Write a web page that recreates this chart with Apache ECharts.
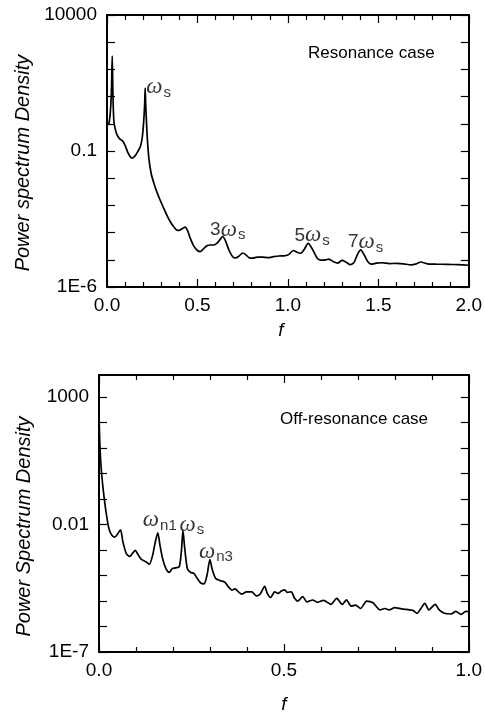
<!DOCTYPE html>
<html><head><meta charset="utf-8">
<script src="https://cdn.jsdelivr.net/npm/echarts@6/dist/echarts.min.js"></script>
<style>html,body{margin:0;padding:0;background:#fff}#c{width:485px;height:715px}</style>
</head><body><div id="c"></div>
<script>
// ---------- Data: resonance case ----------
const topF = [0.000,0.010,0.018,0.024,0.029,0.033,0.038,0.044,0.055,0.070,0.085,0.100,0.115,0.130,0.140,0.155,0.170,0.185,0.195,0.203,0.208,0.211,0.214,0.218,0.223,0.232,0.245,0.260,0.275,0.290,0.310,0.330,0.350,0.370,0.390,0.405,0.420,0.432,0.445,0.460,0.480,0.500,0.515,0.530,0.550,0.570,0.590,0.610,0.625,0.640,0.655,0.675,0.695,0.710,0.730,0.750,0.765,0.785,0.805,0.830,0.860,0.890,0.920,0.950,0.985,1.005,1.030,1.050,1.070,1.090,1.112,1.135,1.160,1.180,1.210,1.225,1.255,1.275,1.300,1.320,1.345,1.365,1.385,1.402,1.420,1.440,1.460,1.490,1.520,1.560,1.600,1.640,1.680,1.710,1.735,1.770,1.820,1.880,1.940,2.000];
const topPSD = [0.91,1.0,2.5,12.6,309,10,1.26,0.71,0.40,0.28,0.24,0.16,0.089,0.060,0.055,0.066,0.095,0.15,0.32,1.26,5.0,20.4,5.0,1.26,0.28,0.050,0.014,0.0063,0.0032,0.0018,8.9e-4,4.5e-4,2.5e-4,1.6e-4,1.2e-4,1.26e-4,1.45e-4,1.6e-4,1.2e-4,6.3e-5,3.2e-5,2.2e-5,2.0e-5,2.4e-5,3.2e-5,3.5e-5,3.5e-5,4.2e-5,5.6e-5,7.2e-5,5.0e-5,2.2e-5,1.3e-5,1.17e-5,1.38e-5,1.78e-5,1.58e-5,1.2e-5,1.15e-5,1.26e-5,1.26e-5,1.2e-5,1.3e-5,1.38e-5,1.41e-5,1.58e-5,2.2e-5,1.9e-5,1.74e-5,2.4e-5,4.0e-5,2.5e-5,1.2e-5,9.8e-6,1.0e-5,1.05e-5,8.3e-6,7.6e-6,9.5e-6,8.3e-6,6.6e-6,7.9e-6,1.58e-5,2.3e-5,1.58e-5,8.9e-6,6.9e-6,7.6e-6,7.8e-6,7.2e-6,7.4e-6,7.1e-6,6.5e-6,7.1e-6,8.3e-6,7.1e-6,6.9e-6,6.8e-6,6.6e-6,6.3e-6];

// ---------- Data: off-resonance case ----------
const botF = [0.000,0.002,0.005,0.009,0.014,0.020,0.026,0.032,0.042,0.050,0.058,0.065,0.074,0.083,0.092,0.098,0.105,0.114,0.128,0.136,0.145,0.152,0.159,0.165,0.172,0.181,0.190,0.198,0.207,0.217,0.223,0.227,0.232,0.239,0.248,0.257,0.266,0.275,0.284,0.292,0.300,0.306,0.315,0.328,0.340,0.350,0.359,0.368,0.377,0.386,0.399,0.413,0.426,0.436,0.448,0.455,0.464,0.475,0.484,0.493,0.502,0.509,0.520,0.528,0.537,0.551,0.562,0.578,0.591,0.607,0.627,0.643,0.658,0.669,0.682,0.694,0.707,0.724,0.741,0.760,0.773,0.785,0.800,0.818,0.840,0.850,0.860,0.870,0.881,0.892,0.909,0.920,0.934,0.952,0.965,0.979,0.992,1.000];
const botPSD = [200,20,2.5,0.5,0.112,0.025,0.0079,0.0044,0.0032,0.0042,0.0062,0.0020,7.2e-4,5.6e-4,7.9e-4,9.8e-4,6.8e-4,4.4e-4,3.4e-4,2.75e-4,6.2e-4,0.0020,0.0047,0.0015,4.6e-4,1.86e-4,1.32e-4,1.86e-4,2.0e-4,2.2e-4,9.8e-4,0.0058,0.0011,1.86e-4,1.32e-4,1.2e-4,7.6e-5,5.1e-5,4.7e-5,1.02e-4,4.2e-4,1.78e-4,7.9e-5,6.3e-5,5.5e-5,3.6e-5,2.7e-5,3.0e-5,2.3e-5,1.86e-5,2.3e-5,2.3e-5,1.58e-5,1.9e-5,3.8e-5,2.0e-5,1.38e-5,2.3e-5,2.0e-5,2.45e-5,2.75e-5,2.2e-5,2.3e-5,1.35e-5,1.0e-5,1.48e-5,9.3e-6,1.1e-5,8.9e-6,1.07e-5,7.4e-6,1.26e-5,7.4e-6,1.12e-5,6.3e-6,6.9e-6,5.1e-6,1.0e-5,8.5e-6,4.5e-6,5.1e-6,4.5e-6,5.5e-6,4.9e-6,4.5e-6,4.2e-6,3.3e-6,5.0e-6,8.1e-6,4.5e-6,7.4e-6,4.5e-6,3.3e-6,3.1e-6,3.9e-6,3.0e-6,3.9e-6,3.8e-6];

// ---------- Axes / ticks ----------
const topYRange = [1e-6, 1e4];
const topYTicks = [1e-6,1e-5,1e-4,1e-3,1e-2,1e-1,1,10,100,1000,1e4];
const topYLabelVals = [1e-6, 0.1, 1e4];
const topYLabelText = ['1E-6', '0.1', '10000'];
const topXRange = [0, 2];

const botYRange = [1e-7, 7400];
const botYTicks = [1e-7,1e-6,1e-5,1e-4,1e-3,1e-2,1e-1,1,10,100,1000];
const botYLabelVals = [1e-7, 0.01, 1000];
const botYLabelText = ['1E-7', '0.01', '1000'];
const botXRange = [0, 1];

// ---------- Texts ----------
const topYName = 'Power spectrum Density';
const botYName = 'Power Spectrum Density';
const xName = 'f';
const topCaseText = 'Resonance case';
const botCaseText = 'Off-resonance case';
const topNotes = [{pre:'', sub:'s', at:0.211}, {pre:'3', sub:'s', at:0.640}, {pre:'5', sub:'s', at:1.112}, {pre:'7', sub:'s', at:1.402}];
const botNotes = [{pre:'', sub:'n1', at:0.159}, {pre:'', sub:'s', at:0.227}, {pre:'', sub:'n3', at:0.300}];

// ---------- Build ----------
const SANS = 'Liberation Sans, Arial, sans-serif';
const SERIF = 'Liberation Serif, Times New Roman, serif';
const AXC = '#000';
const TICKFS = 19;
const NAMEFS = 20;

function labelFmt(vals, texts) {
  return function (v) {
    for (let i = 0; i < vals.length; i++) {
      if (Math.abs(Math.log10(v) - Math.log10(vals[i])) < 1e-6) return texts[i];
    }
    return '';
  };
}
function pairs(xs, ys) { return xs.map((x, i) => [x, ys[i]]); }
function nearest(xs, x) { let b = 0; xs.forEach((v, i) => { if (Math.abs(v - x) < Math.abs(xs[b] - x)) b = i; }); return b; }

const noteStyleTop = [
  {position: 'right', distance: 1, offset: [0, -1]},
  {position: 'top', distance: 0, offset: [5, 4]},
  {position: 'top', distance: 0, offset: [4, 3]},
  {position: 'top', distance: 0, offset: [5, 3]}
];
const noteStyleBot = [
  {position: 'top', distance: 0, offset: [2, -2]},
  {position: 'top', distance: 0, offset: [9, 5]},
  {position: 'top', distance: 0, offset: [6, 3]}
];
const rich = {
  n: {fontFamily: SANS, fontSize: 19, color: '#000', lineHeight: 22},
  w: {fontFamily: SERIF, fontStyle: 'italic', fontSize: 23, color: '#000', lineHeight: 22},
  s: {fontFamily: SANS, fontSize: 15, color: '#000', lineHeight: 22, padding: [11, 0, 0, 1]}
};
function noteSeries(notes, xs, ys, styles, gi) {
  return notes.map((n, k) => {
    const idx = nearest(xs, n.at);
    return {
      type: 'scatter', xAxisIndex: gi * 2, yAxisIndex: gi * 2, symbolSize: 0, silent: true,
      data: [[xs[idx], ys[idx]]],
      label: Object.assign({show: true, formatter: (n.pre ? '{n|' + n.pre + '}' : '') + '{w|ω}{s|' + n.sub + '}', rich: rich}, styles[k]),
      z: 5
    };
  });
}

function xAxes(gi, range, nameGap, namePad) {
  const base = {
    type: 'value', gridIndex: gi, min: range[0], max: range[1], interval: 0.5,
    axisLine: {show: true, onZero: false, lineStyle: {color: AXC, width: 2}},
    axisTick: {show: true, inside: true, length: 8, lineStyle: {color: AXC, width: 1.2}},
    minorTick: {show: true, splitNumber: 5, length: 5, lineStyle: {color: AXC, width: 1.2}},
    splitLine: {show: false}, minorSplitLine: {show: false}
  };
  return [
    Object.assign({}, base, {position: 'bottom',
      axisLabel: {show: true, margin: 9, fontFamily: SANS, fontSize: TICKFS, color: '#000', formatter: v => v.toFixed(1), showMinLabel: true, showMaxLabel: true},
      name: xName, nameLocation: 'middle', nameGap: nameGap,
      nameTextStyle: {fontFamily: SANS, fontStyle: 'italic', fontSize: TICKFS, color: '#000', padding: namePad}}),
    Object.assign({}, base, {position: 'top', axisLabel: {show: false}})
  ];
}
function yAxes(gi, range, ticks, lv, lt, name, nameGap, namePad) {
  const base = {
    type: 'log', logBase: 10, gridIndex: gi, min: range[0], max: range[1],
    axisLine: {show: true, onZero: false, lineStyle: {color: AXC, width: 2}},
    axisTick: {show: true, inside: true, length: 8, customValues: ticks, lineStyle: {color: AXC, width: 1.2}},
    minorTick: {show: false}, splitLine: {show: false}
  };
  return [
    Object.assign({}, base, {position: 'left',
      axisLabel: {show: true, margin: 10, customValues: lv, fontFamily: SANS, fontSize: TICKFS, color: '#000', formatter: labelFmt(lv, lt)},
      name: name, nameLocation: 'middle', nameRotate: 90, nameGap: nameGap,
      nameTextStyle: {fontFamily: SANS, fontStyle: 'italic', fontSize: NAMEFS, color: '#000', padding: namePad}}),
    Object.assign({}, base, {position: 'right', axisLabel: {show: false}})
  ];
}

const chart = echarts.init(document.getElementById('c'), null, {renderer: 'canvas'});
const lineStyle = {color: '#000', width: 1.7};
chart.setOption({
  backgroundColor: '#fff',
  animation: false,
  grid: [
    {left: 107, top: 15, width: 366, height: 272},
    {left: 99, top: 375, width: 374, height: 279}
  ],
  xAxis: [].concat(xAxes(0, topXRange, 34, [0, 14, 0, 0]), xAxes(1, botXRange, 43, [0, 0, 0, 0])),
  yAxis: [].concat(
    yAxes(0, topYRange, topYTicks, topYLabelVals, topYLabelText, topYName, 74, [0, 24, 0, 0]),
    yAxes(1, botYRange, botYTicks, botYLabelVals, botYLabelText, botYName, 65, [0, 26, 0, 0])),
  graphic: [
    {type: 'text', left: 308, top: 45, style: {text: topCaseText, font: '17px ' + SANS, fill: '#000'}},
    {type: 'text', left: 280, top: 411, style: {text: botCaseText, font: '17px ' + SANS, fill: '#000'}}
  ],
  series: [
    {type: 'line', xAxisIndex: 0, yAxisIndex: 0, data: pairs(topF, topPSD), showSymbol: false, smooth: 0.25, lineStyle: lineStyle, silent: true},
    {type: 'line', xAxisIndex: 2, yAxisIndex: 2, data: pairs(botF, botPSD), showSymbol: false, smooth: 0.25, lineStyle: lineStyle, silent: true}
  ].concat(noteSeries(topNotes, topF, topPSD, noteStyleTop, 0), noteSeries(botNotes, botF, botPSD, noteStyleBot, 1))
});
</script></body></html>
